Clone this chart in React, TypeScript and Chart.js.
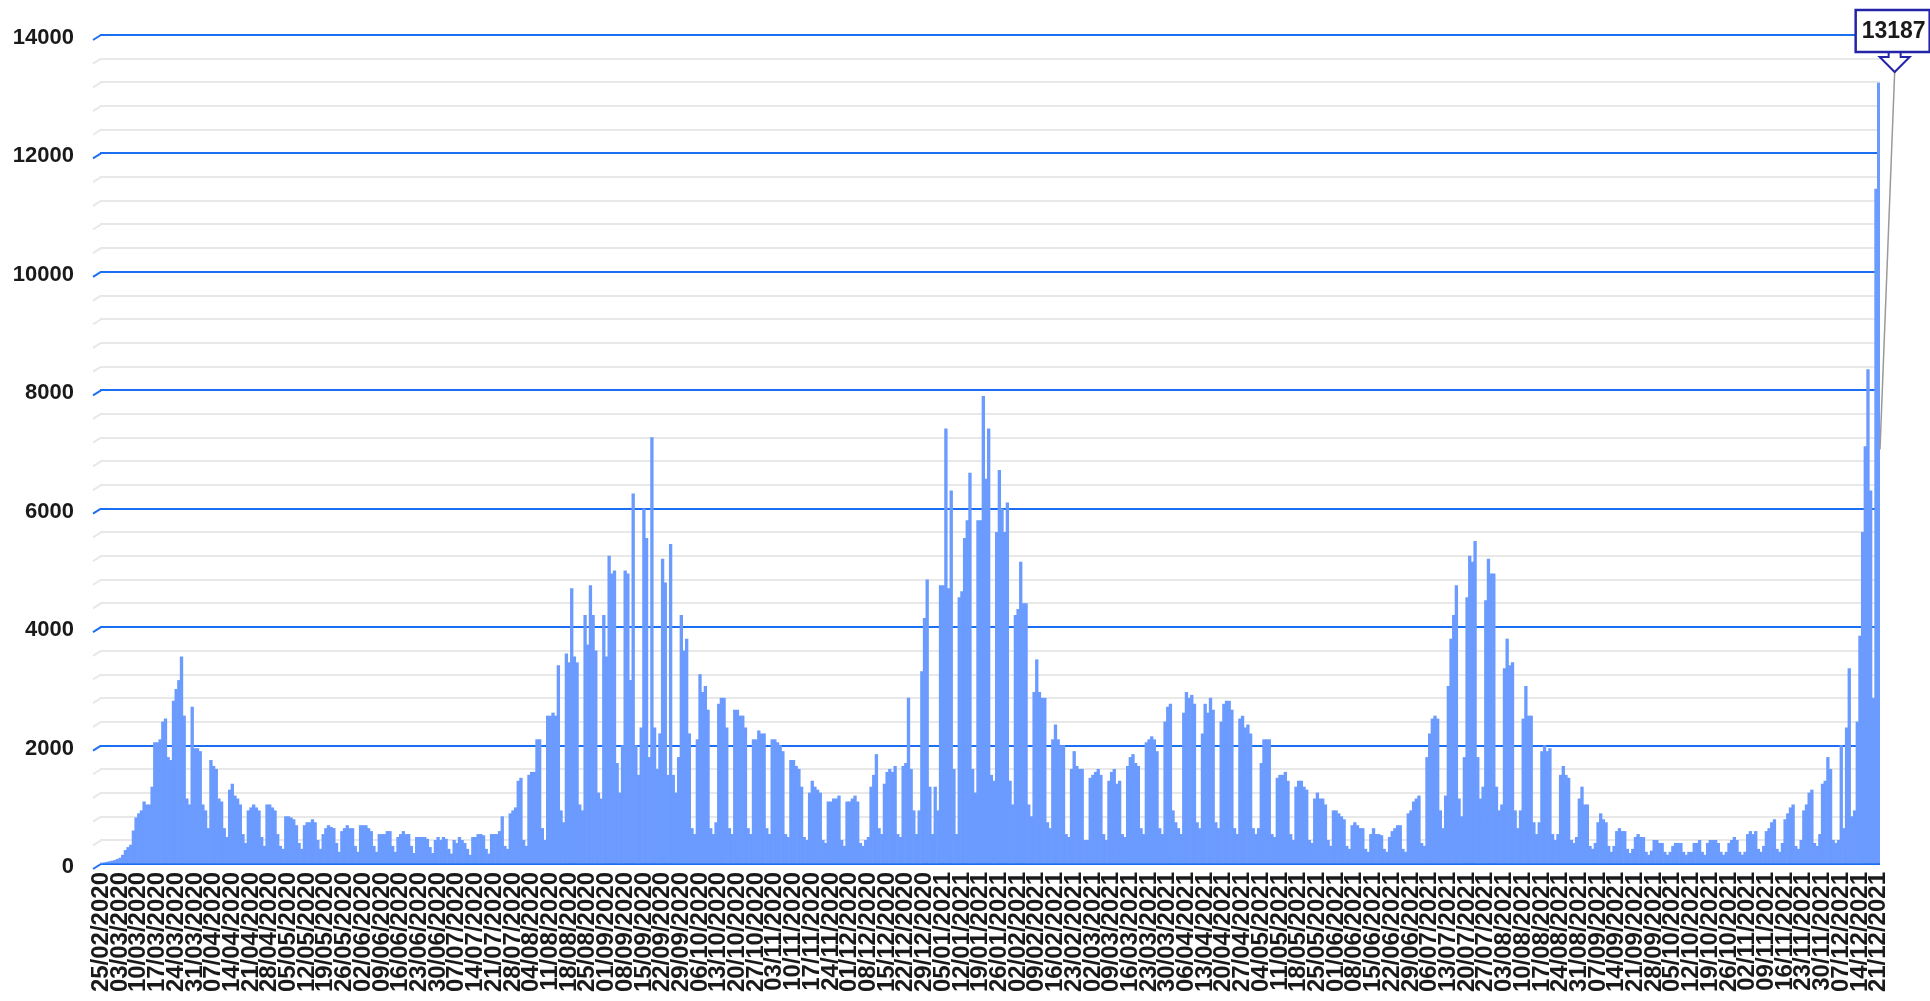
import React, { useEffect, useRef } from "react";
import { Chart, registerables } from "chart.js";

Chart.register(...registerables);

// Weekly rows, Tuesday..Monday, starting 25/02/2020
const cases2020a = [
  10, 20, 30, 40, 50, 60, 80,
  100, 150, 230, 280, 320, 560, 780,
  850, 900, 1050, 1000, 1000, 1300, 2050,
  2050, 2100, 2400, 2450, 1800, 1750, 2750,
  2950, 3100, 3500, 2500, 1100, 1000, 2650,
  1950, 1950, 1900, 1000, 900, 600, 1750,
  1650, 1600, 1100, 1050, 600, 450, 1250,
  1350, 1150, 1100, 1000, 500, 350, 900,
  950, 1000, 950, 900, 450, 300, 1000,
  1000, 950, 900, 500, 300, 250, 800,
  800, 780, 750, 650, 350, 250, 650,
  700, 700, 750, 700, 400, 250, 500,
  600, 650, 620, 600, 350, 200, 550,
  600, 650, 600, 600, 300, 200, 650,
  650, 650, 600, 550, 300, 200, 500,
  500, 500, 550, 550, 300, 200, 450,
  500, 550, 500, 500, 300, 180, 450,
  450, 450, 450, 420, 280, 180, 400,
  450, 400, 450, 420, 250, 170, 400,
  350, 450, 400, 350, 250, 150, 450,
  450, 500, 500, 480, 250, 170, 500,
  500, 500, 550, 800, 300, 250, 850,
];

const cases2020b = [
  900, 950, 1400, 1450, 400, 300, 1500,
  1550, 1550, 2100, 2100, 600, 400, 2500,
  2500, 2550, 2500, 3350, 900, 700, 3550,
  3400, 4650, 3500, 3400, 1000, 900, 4200,
  3700, 4700, 4200, 3600, 1200, 1100, 4200,
  3500, 5200, 4900, 4950, 1700, 1200, 2000,
  4950, 4900, 3100, 6250, 2000, 1500, 2300,
  6000, 5500, 1800, 7200, 2300, 1600, 2200,
  5150, 4750, 1500, 5400, 1500, 1200, 1800,
  4200, 3600, 3800, 2200, 600, 500, 2100,
  3200, 2900, 3000, 2600, 600, 500, 700,
  2700, 2800, 2800, 2300, 600, 500, 2600,
  2600, 2500, 2500, 2300, 600, 500, 2100,
  2100, 2250, 2200, 2200, 600, 500, 2100,
  2100, 2050, 2000, 1900, 500, 450, 1750,
  1750, 1650, 1600, 1300, 450, 400, 1200,
  1400, 1300, 1250, 1200, 400, 350, 1050,
  1050, 1100, 1100, 1150, 400, 300, 1050,
  1050, 1100, 1150, 1050, 350, 300, 400,
  450, 1300, 1500, 1850, 600, 500, 1350,
  1550, 1600, 1550, 1650, 500, 450, 1650,
  1700, 2800, 1600, 900, 500, 900, 3250,
  4150, 4800, 1300, 500, 1300, 900, 4700,
];

const cases2021a = [
  4700, 7350, 4650, 6300, 1600, 500, 4500,
  4600, 5500, 5800, 6600, 1600, 1200, 5800,
  5800, 7900, 6500, 7350, 1500, 1400, 5600,
  6650, 6000, 5600, 6100, 1400, 1000, 4200,
  4300, 5100, 4400, 4400, 1000, 800, 2900,
  3450, 2900, 2800, 2800, 700, 600, 2100,
  2350, 2100, 2000, 2000, 500, 450, 1600,
  1900, 1650, 1600, 1600, 400, 400, 1450,
  1500, 1550, 1600, 1500, 500, 400, 1400,
  1550, 1600, 1350, 1400, 500, 450, 1650,
  1800, 1850, 1700, 1650, 600, 500, 2050,
  2100, 2150, 2100, 1900, 600, 500, 2400,
  2650, 2700, 900, 700, 600, 500, 2550,
  2900, 2800, 2850, 2700, 700, 600, 2200,
  2700, 2550, 2800, 2600, 700, 600, 2400,
  2700, 2750, 2750, 2600, 600, 500, 2450,
  2500, 2300, 2350, 2200, 600, 500, 600,
  1700, 2100, 2100, 2100, 500, 450, 1450,
  1500, 1500, 1550, 1400, 500, 400, 1300,
  1400, 1400, 1300, 1250, 400, 350, 1100,
  1200, 1100, 1100, 1000, 400, 300, 900,
  900, 850, 800, 750, 300, 250, 650,
  700, 650, 600, 600, 250, 200, 500,
  600, 500, 500, 480, 250, 200, 450,
  550, 600, 650, 650, 250, 200, 850,
];

const cases2021b = [
  900, 1050, 1100, 1150, 350, 300, 1800,
  2200, 2450, 2500, 2450, 900, 600, 1150,
  3000, 3800, 4200, 4700, 1100, 800, 1800,
  4500, 5200, 5100, 5450, 1800, 1100, 1300,
  4450, 5150, 4900, 4900, 1300, 900, 1000,
  3300, 3800, 3350, 3400, 900, 600, 900,
  2450, 3000, 2500, 2500, 700, 500, 700,
  1900, 2000, 1900, 1950, 500, 400, 500,
  1500, 1650, 1500, 1450, 400, 350, 450,
  1100, 1300, 1000, 1000, 300, 250, 350,
  700, 850, 750, 700, 300, 200, 300,
  550, 600, 550, 550, 250, 180, 250,
  450, 500, 450, 450, 200, 150, 220,
  400, 400, 350, 350, 200, 150, 200,
  300, 350, 350, 350, 200, 150, 200,
  200, 350, 350, 400, 200, 150, 350,
  400, 400, 400, 350, 200, 150, 200,
  350, 400, 450, 400, 200, 150, 200,
  500, 550, 500, 550, 250, 200, 300,
  550, 600, 700, 750, 250, 200, 350,
  750, 850, 950, 1000, 300, 250, 400,
  900, 1000, 1200, 1250, 350, 300, 500,
  1350, 1400, 1800, 1600, 400, 350, 400,
  2000, 600, 2300, 3300, 800, 900, 2400,
  3850, 5600, 7050, 8350, 6300, 2800, 11400,
  13187,
];

const tickLabels = [
  "25/02/2020", "03/03/2020", "10/03/2020", "17/03/2020", "24/03/2020", "31/03/2020",
  "07/04/2020", "14/04/2020", "21/04/2020", "28/04/2020", "05/05/2020", "12/05/2020",
  "19/05/2020", "26/05/2020", "02/06/2020", "09/06/2020", "16/06/2020", "23/06/2020",
  "30/06/2020", "07/07/2020", "14/07/2020", "21/07/2020", "28/07/2020", "04/08/2020",
  "11/08/2020", "18/08/2020", "25/08/2020", "01/09/2020", "08/09/2020", "15/09/2020",
  "22/09/2020", "29/09/2020", "06/10/2020", "13/10/2020", "20/10/2020", "27/10/2020",
  "03/11/2020", "10/11/2020", "17/11/2020", "24/11/2020", "01/12/2020", "08/12/2020",
  "15/12/2020", "22/12/2020", "29/12/2020", "05/01/2021", "12/01/2021", "19/01/2021",
  "26/01/2021", "02/02/2021", "09/02/2021", "16/02/2021", "23/02/2021", "02/03/2021",
  "09/03/2021", "16/03/2021", "23/03/2021", "30/03/2021", "06/04/2021", "13/04/2021",
  "20/04/2021", "27/04/2021", "04/05/2021", "11/05/2021", "18/05/2021", "25/05/2021",
  "01/06/2021", "08/06/2021", "15/06/2021", "22/06/2021", "29/06/2021", "06/07/2021",
  "13/07/2021", "20/07/2021", "27/07/2021", "03/08/2021", "10/08/2021", "17/08/2021",
  "24/08/2021", "31/08/2021", "07/09/2021", "14/09/2021", "21/09/2021", "28/09/2021",
  "05/10/2021", "12/10/2021", "19/10/2021", "26/10/2021", "02/11/2021", "09/11/2021",
  "16/11/2021", "23/11/2021", "30/11/2021", "07/12/2021", "14/12/2021", "21/12/2021",
];

const dailyCases = [...cases2020a, ...cases2020b, ...cases2021a, ...cases2021b];

const pad2 = (n: number) => (n < 10 ? "0" + n : String(n));
const categories = dailyCases.map((_, i) => {
  const d = new Date(Date.UTC(2020, 1, 25 + i));
  return `${pad2(d.getUTCDate())}/${pad2(d.getUTCMonth() + 1)}/${d.getUTCFullYear()}`;
});

const FONT = "'Liberation Sans', Arial, sans-serif";
const BLUE = "#1d6ff2";
const GRAY = "#e8e8e8";
const BAR = "#6b9bff";
const TEXT = "#1a1a1a";

const decorPlugin = {
  id: "decor",
  beforeDatasetsDraw(chart: any) {
    const { ctx, chartArea, scales } = chart;
    const y = scales.y;
    ctx.save();
    ctx.lineWidth = 2;
    y.ticks.forEach((t: any) => {
      const py = y.getPixelForValue(t.value);
      ctx.strokeStyle = t.value % 2000 === 0 ? BLUE : GRAY;
      ctx.beginPath();
      ctx.moveTo(chartArea.left - 7, py + 5);
      ctx.lineTo(chartArea.left + 1, py);
      ctx.stroke();
    });
    ctx.restore();
  },
  afterDatasetsDraw(chart: any) {
    const { ctx, chartArea, scales } = chart;
    const x = scales.x;
    const y = scales.y;
    const last = dailyCases.length - 1;
    const lastX = x.getPixelForValue(last);
    const cx = lastX + 16;
    const boxTop = chartArea.top - 25;
    const boxBottom = boxTop + 42;
    const tipY = boxBottom + 20;
    ctx.save();
    // leader line
    ctx.strokeStyle = "#9a9a9a";
    ctx.lineWidth = 1.5;
    ctx.beginPath();
    ctx.moveTo(cx, tipY);
    ctx.lineTo(chartArea.right, y.getPixelForValue(7000));
    ctx.stroke();
    // arrow
    ctx.strokeStyle = "#2424a8";
    ctx.fillStyle = "#ffffff";
    ctx.lineWidth = 2;
    ctx.beginPath();
    ctx.moveTo(cx - 6, boxBottom);
    ctx.lineTo(cx - 6, boxBottom + 5);
    ctx.lineTo(cx - 15, boxBottom + 5);
    ctx.lineTo(cx, tipY);
    ctx.lineTo(cx + 15, boxBottom + 5);
    ctx.lineTo(cx + 6, boxBottom + 5);
    ctx.lineTo(cx + 6, boxBottom);
    ctx.closePath();
    ctx.fill();
    ctx.stroke();
    // box
    ctx.lineWidth = 2.5;
    ctx.beginPath();
    ctx.rect(cx - 39, boxTop, 74, 42);
    ctx.fill();
    ctx.stroke();
    ctx.fillStyle = TEXT;
    ctx.font = `bold 23px ${FONT}`;
    ctx.textAlign = "center";
    ctx.textBaseline = "middle";
    ctx.fillText(String(dailyCases[last]), cx - 1, boxTop + 22);
    ctx.restore();
  },
};

export default function App() {
  const canvasRef = useRef<HTMLCanvasElement | null>(null);

  useEffect(() => {
    if (!canvasRef.current) return;
    const chart = new Chart(canvasRef.current, {
      type: "bar",
      data: {
        labels: categories,
        datasets: [
          {
            data: dailyCases,
            backgroundColor: BAR,
            borderWidth: 0,
            barPercentage: 1,
            categoryPercentage: 1,
          },
        ],
      },
      options: {
        animation: false,
        responsive: true,
        maintainAspectRatio: false,
        layout: { padding: { top: 35, right: 50, left: 0, bottom: 0 } },
        plugins: {
          legend: { display: false },
          tooltip: { enabled: false },
        },
        scales: {
          x: {
            grid: { display: false, drawTicks: false },
            border: { display: false },
            ticks: {
              autoSkip: false,
              maxRotation: 90,
              minRotation: 90,
              padding: 8,
              color: TEXT,
              font: { family: FONT, size: 24, weight: "bold" },
              callback: (_v: any, i: number) => (i % 7 === 0 ? tickLabels[i / 7] : ""),
            },
            afterFit: (s: any) => {
              s.height = 137;
              s.paddingLeft = 0;
              s.paddingRight = 0;
            },
          },
          y: {
            min: 0,
            max: 14000,
            border: { display: false },
            grid: {
              drawTicks: false,
              lineWidth: 2,
              color: (c: any) => (c.tick && c.tick.value % 2000 === 0 ? BLUE : GRAY),
            },
            ticks: {
              autoSkip: false,
              stepSize: 400,
              padding: 26,
              labelOffset: 3,
              color: TEXT,
              font: { family: FONT, size: 22, weight: "bold" },
              callback: (v: any) => (Number(v) % 2000 === 0 ? String(v) : ""),
            },
            afterFit: (s: any) => {
              s.width = 100;
              s.paddingTop = 0;
              s.paddingBottom = 0;
            },
          },
        },
      },
      plugins: [decorPlugin],
    });
    return () => chart.destroy();
  }, []);

  return (
    <div style={{ position: "fixed", left: 0, top: 0, width: "1930px", height: "1001px" }}>
      <canvas ref={canvasRef} style={{ display: "block" }} />
    </div>
  );
}
